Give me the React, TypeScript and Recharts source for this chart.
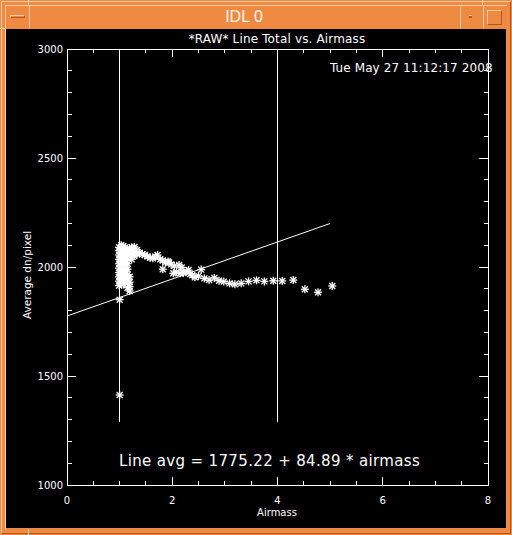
import { ScatterChart, Scatter, XAxis, YAxis, ReferenceLine, ReferenceArea } from "recharts";

// airmass / average dn per pixel
const airmass = [
  0.99, 0.99, 0.99, 0.99, 0.99, 0.99, 0.99, 0.99, 0.99, 0.99,
  1.03, 1.03, 1.03, 1.03, 1.03, 1.03, 1.03, 1.03, 1.03, 1.03,
  1.07, 1.07, 1.07, 1.07, 1.07, 1.07, 1.07, 1.07, 1.07, 1.07,
  1.11, 1.11, 1.11, 1.11, 1.11, 1.11, 1.11, 1.11, 1.11,
  1.15, 1.15, 1.15, 1.15, 1.15, 1.15, 1.15, 1.15, 1.15,
  1.19, 1.19, 1.19, 1.19, 1.19, 1.19, 1.19,
  1.23, 1.23, 1.23, 1.23,
  1.28, 1.28, 1.28,
  1.33, 1.33,
  1.38, 1.43, 1.48, 1.53, 1.58, 1.63, 1.68, 1.72, 1.77, 1.82, 1.82, 1.87, 1.92, 1.94, 1.98, 2.04, 2.13, 2.18,
  2.02, 2.08, 2.15, 2.21, 2.27, 2.31, 2.34, 2.38, 2.43, 2.5, 2.55, 2.61,
  2.7, 2.8, 2.89, 2.98, 3.09, 3.19, 3.31, 3.45, 3.6, 3.75, 3.92, 4.09, 4.3, 4.52, 4.77, 5.04,
  1.0, 1.0,
];
const lineTotal = [
  1915, 1935, 1955, 1975, 1995, 2015, 2035, 2055, 2075, 2090,
  1925, 1945, 1965, 1985, 2005, 2025, 2045, 2065, 2085, 2100,
  1920, 1940, 1960, 1980, 2000, 2020, 2040, 2060, 2080, 2095,
  1930, 1950, 1970, 1990, 2010, 2030, 2050, 2070, 2090,
  1905, 1925, 1945, 1965, 1990, 2015, 2040, 2060, 2080,
  1890, 1910, 1930, 1955, 2045, 2065, 2085,
  2035, 2055, 2075, 2090,
  2050, 2070, 2092,
  2060, 2078,
  2065, 2058, 2055, 2048, 2042, 2040, 2048, 2055, 2035, 2030, 1990, 2022, 2025, 2021, 2012, 2005, 2009, 1998,
  1971, 1976, 1971, 1972, 1980, 1986, 1968, 1962, 1953, 1958, 1988, 1948,
  1940, 1950, 1937, 1933, 1925, 1921, 1925, 1934, 1939, 1934, 1937, 1936, 1940, 1898, 1884, 1913,
  1850, 1413,
];

const xTickLabels = [0, 2, 4, 6, 8];
const xMinorTicks = [0.5, 1, 1.5, 2.5, 3, 3.5, 4.5, 5, 5.5, 6.5, 7, 7.5];
const yTickLabels = [1000, 1500, 2000, 2500, 3000];
const yMinorTicks = [1100, 1200, 1300, 1400, 1600, 1700, 1800, 1900, 2100, 2200, 2300, 2400, 2600, 2700, 2800, 2900];

const fitCoef = [1775.22, 84.89];
const fitRange = [0, 5];
const markerAirmass = [1, 4];
const markerSpan = [1290, 3000];

const W = 500;
const H = 499;
const M = { top: 20, right: 18, bottom: 0, left: 0 };
const Y_AXIS_W = 61;
const X_AXIS_H = 43;
const plotW = W - M.left - M.right - Y_AXIS_W;
const plotH = H - M.top - M.bottom - X_AXIS_H;
const pxPerX = plotW / 8;
const pxPerY = plotH / 2000;

const ORANGE = "#EE8A42";
const LIGHT = "#F9C9A2";
const DARK = "#A85A26";

const Asterisk = (props: any) => {
  const { cx, cy } = props;
  if (cx == null || cy == null) return null;
  const r = 4;
  const d = 3;
  return (
    <g stroke="#fff" strokeWidth={1.3}>
      <line x1={cx - r} y1={cy} x2={cx + r} y2={cy} />
      <line x1={cx} y1={cy - r} x2={cx} y2={cy + r} />
      <line x1={cx - d} y1={cy - d} x2={cx + d} y2={cy + d} />
      <line x1={cx - d} y1={cy + d} x2={cx + d} y2={cy - d} />
    </g>
  );
};

export default function App() {
  const points = airmass.map((a, i) => ({ x: a, y: lineTotal[i] }));

  const xTicks = [
    ...xTickLabels.filter((t) => t > 0 && t < 8).map((t) => ({ t, len: 8 / pxPerY })),
    ...xMinorTicks.map((t) => ({ t, len: 4 / pxPerY })),
  ];
  const yTicks = [
    ...yTickLabels.filter((t) => t > 1000 && t < 3000).map((t) => ({ t, len: 9 / pxPerX })),
    ...yMinorTicks.map((t) => ({ t, len: 4.5 / pxPerX })),
  ];

  const txt = { position: "absolute" as const, color: "#fff", fontFamily: "DejaVu Sans", whiteSpace: "nowrap" as const };

  return (
    <div style={{ position: "absolute", left: 0, top: 0, width: 512, height: 535, background: ORANGE, overflow: "hidden" }}>
      {/* window frame */}
      <div style={{ position: "absolute", left: 1, top: 1, width: 510, height: 533, borderTop: `1px solid ${LIGHT}`, borderLeft: `1px solid ${LIGHT}`, borderRight: `1px solid ${DARK}`, borderBottom: `1px solid ${DARK}`, boxSizing: "border-box" }} />
      <div style={{ position: "absolute", left: 5, top: 5, width: 502, height: 525, borderTop: `1px solid ${LIGHT}`, borderLeft: `1px solid ${LIGHT}`, boxSizing: "border-box" }} />
      <div style={{ position: "absolute", left: 28, top: 0, width: 1, height: 6, background: LIGHT }} />
      <div style={{ position: "absolute", left: 482, top: 0, width: 1, height: 6, background: LIGHT }} />
      <div style={{ position: "absolute", left: 0, top: 28, width: 6, height: 1, background: LIGHT }} />
      <div style={{ position: "absolute", left: 28, top: 529, width: 1, height: 6, background: LIGHT }} />
      <div style={{ position: "absolute", left: 29, top: 6, width: 1, height: 22, background: LIGHT }} />
      <div style={{ position: "absolute", left: 460, top: 6, width: 1, height: 22, background: LIGHT }} />
      <div style={{ position: "absolute", left: 483, top: 6, width: 1, height: 22, background: LIGHT }} />
      <div style={{ position: "absolute", left: 10, top: 15, width: 15, height: 3, borderTop: `1px solid ${LIGHT}`, borderLeft: `1px solid ${LIGHT}`, borderRight: `1px solid ${DARK}`, borderBottom: `1px solid ${DARK}`, boxSizing: "border-box" }} />
      <div style={{ position: "absolute", left: 469, top: 15, width: 3, height: 3, background: DARK, borderTop: `1px solid ${LIGHT}` , boxSizing: "border-box" }} />
      <div style={{ position: "absolute", left: 487, top: 10, width: 15, height: 15, borderTop: `1px solid ${LIGHT}`, borderLeft: `1px solid ${LIGHT}`, borderRight: `1px solid ${DARK}`, borderBottom: `1px solid ${DARK}`, boxSizing: "border-box" }} />
      <div style={{ position: "absolute", left: 194, top: 7, width: 100, textAlign: "center", color: "#FFF6EE", fontFamily: "Liberation Sans", fontSize: 16, lineHeight: "20px" }}>
        IDL 0
      </div>

      {/* plot window */}
      <div style={{ position: "absolute", left: 6, top: 29, width: W, height: H, background: "#000" }}>
        <ScatterChart width={W} height={H} margin={M} style={{ background: "#000" }}>
          <XAxis
            type="number"
            dataKey="x"
            domain={[0, 8]}
            ticks={xTickLabels}
            height={X_AXIS_H}
            tickLine={false}
            axisLine={false}
            tickSize={0}
            tickMargin={12}
            tick={{ fill: "#fff", fontSize: 10, fontFamily: "DejaVu Sans" }}
            allowDataOverflow
          />
          <YAxis
            type="number"
            dataKey="y"
            domain={[1000, 3000]}
            ticks={yTickLabels}
            width={Y_AXIS_W}
            tickLine={false}
            axisLine={false}
            tickSize={0}
            tickMargin={4}
            tick={{ fill: "#fff", fontSize: 10, fontFamily: "DejaVu Sans" }}
            allowDataOverflow
          />
          <ReferenceArea x1={0} x2={8} y1={1000} y2={3000} fill="none" stroke="#fff" strokeWidth={1} shapeRendering="crispEdges" />
          {xTicks.map(({ t, len }) => (
            <ReferenceLine key={`xb${t}`} segment={[{ x: t, y: 1000 }, { x: t, y: 1000 + len }]} stroke="#fff" shapeRendering="crispEdges" />
          ))}
          {xTicks.map(({ t, len }) => (
            <ReferenceLine key={`xt${t}`} segment={[{ x: t, y: 3000 }, { x: t, y: 3000 - len }]} stroke="#fff" shapeRendering="crispEdges" />
          ))}
          {yTicks.map(({ t, len }) => (
            <ReferenceLine key={`yl${t}`} segment={[{ x: 0, y: t }, { x: len, y: t }]} stroke="#fff" shapeRendering="crispEdges" />
          ))}
          {yTicks.map(({ t, len }) => (
            <ReferenceLine key={`yr${t}`} segment={[{ x: 8, y: t }, { x: 8 - len, y: t }]} stroke="#fff" shapeRendering="crispEdges" />
          ))}
          {markerAirmass.map((a) => (
            <ReferenceLine key={`m${a}`} segment={[{ x: a, y: markerSpan[0] }, { x: a, y: markerSpan[1] }]} stroke="#fff" shapeRendering="crispEdges" />
          ))}
          <ReferenceLine
            segment={[
              { x: fitRange[0], y: fitCoef[0] + fitCoef[1] * fitRange[0] },
              { x: fitRange[1], y: fitCoef[0] + fitCoef[1] * fitRange[1] },
            ]}
            stroke="#fff"
          />
          <Scatter data={points} shape={<Asterisk />} isAnimationActive={false} />
        </ScatterChart>

        <div style={{ ...txt, left: 171, top: 4, width: 200, textAlign: "center", fontSize: 12, lineHeight: "12px", letterSpacing: 0.15 }}>
          *RAW* Line Total vs. Airmass
        </div>
        <div style={{ ...txt, left: 324, top: 33, fontSize: 12, lineHeight: "12px", letterSpacing: 0.1 }}>Tue May 27 11:12:17 2008</div>
        <div style={{ ...txt, left: 113, top: 425, fontSize: 15, lineHeight: "15px", letterSpacing: 0.35 }}>
          Line avg = 1775.22 + 84.89 * airmass
        </div>
        <div style={{ ...txt, left: 171, top: 478.5, width: 200, textAlign: "center", fontSize: 10, lineHeight: "10px" }}>Airmass</div>
        <div
          style={{
            ...txt,
            left: 20.5 - 60,
            top: 245.5 - 5,
            width: 120,
            textAlign: "center",
            fontSize: 10.5,
            lineHeight: "10px",
            transform: "rotate(-90deg)",
          }}
        >
          Average dn/pixel
        </div>
      </div>
    </div>
  );
}
